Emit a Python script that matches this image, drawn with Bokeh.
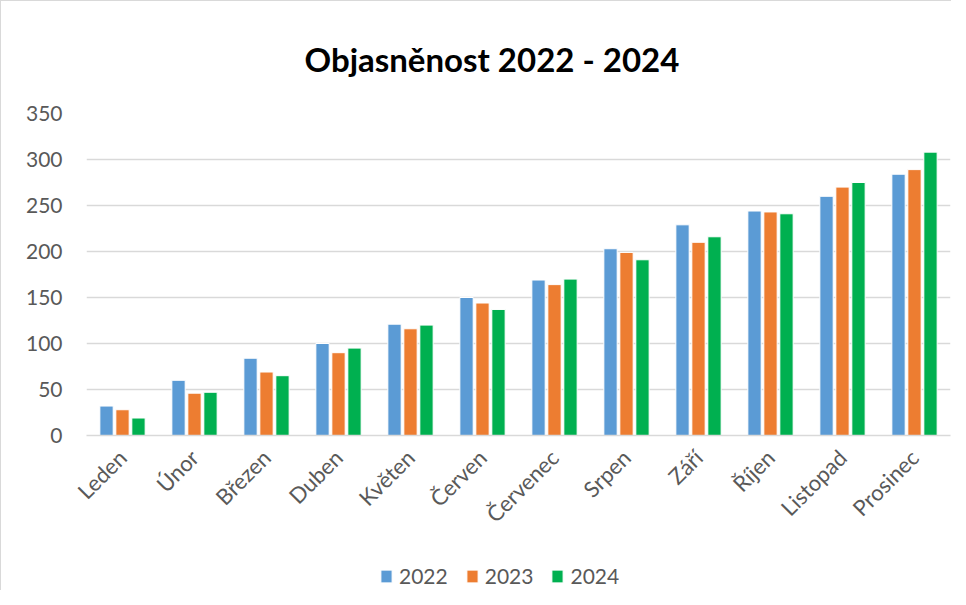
import math
from bokeh.plotting import figure
from bokeh.layouts import column
from bokeh.models import ColumnDataSource, FactorRange, Range1d, FixedTicker, Legend, LegendItem
from bokeh.transform import dodge
from bokeh.embed import file_html
from bokeh.resources import INLINE

months = ["Leden", "Únor", "Březen", "Duben", "Květen", "Červen", "Červenec",
          "Srpen", "Září", "Říjen", "Listopad", "Prosinec"]
v2022 = [32, 60, 84, 100, 121, 150, 169, 203, 229, 244, 260, 284]
v2023 = [28, 46, 69, 90, 116, 144, 164, 199, 210, 243, 270, 289]
v2024 = [19, 47, 65, 95, 120, 137, 170, 191, 216, 241, 275, 308]
years = ["2022", "2023", "2024"]
colors = ["#5B9BD5", "#ED7D31", "#00B050"]
y_ticks = [0, 50, 100, 150, 200, 250, 300, 350]

src = ColumnDataSource(dict(month=months, y2022=v2022, y2023=v2023, y2024=v2024))

FONT = "Lato"
GREY = "#595959"
offsets = [-0.222, 0.0, 0.222]

# ---- main chart ----
p = figure(x_range=FactorRange(factors=months, range_padding=0),
           y_range=Range1d(0, 350),
           width=950, height=540, output_backend="svg", toolbar_location=None,
           title="Objasněnost 2022 - 2024")
p.min_border_left = 85
p.min_border_right = 1
p.min_border_top = 110
p.min_border_bottom = 106
p.outline_line_color = None

p.title.align = "left"
p.title.offset = 218
p.title.text_font = FONT
p.title.text_font_size = "33px"
p.title.text_font_style = "bold"
p.title.text_color = "#000000"
p.title.standoff = 70

for yr, col, off in zip(years, colors, offsets):
    p.vbar(x=dodge("month", off, range=p.x_range), top="y" + yr, width=0.185,
           source=src, fill_color=col, line_color="white", line_width=1)

p.yaxis.ticker = FixedTicker(ticks=y_ticks)
p.yaxis.axis_line_color = None
p.yaxis.major_tick_line_color = None
p.yaxis.minor_tick_line_color = None
p.yaxis.major_label_text_font = FONT
p.yaxis.major_label_text_font_size = "21px"
p.yaxis.major_label_text_color = GREY
p.yaxis.major_label_standoff = 18

p.xaxis.axis_line_color = "#d9d9d9"
p.xaxis.axis_line_width = 1.5
p.xaxis.major_tick_line_color = None
p.xaxis.minor_tick_line_color = None
p.xaxis.major_label_orientation = math.pi / 4
p.xaxis.major_label_text_font = FONT
p.xaxis.major_label_text_font_size = "22px"
p.xaxis.major_label_text_color = GREY
p.xaxis.major_label_standoff = 12

p.xgrid.grid_line_color = None
p.ygrid.grid_line_color = "#d9d9d9"
p.ygrid.grid_line_width = 1.5

# ---- legend strip (bars fall outside its y range, only the legend shows) ----
q = figure(x_range=p.x_range, y_range=Range1d(1000, 1001),
           width=950, height=49, output_backend="svg", toolbar_location=None,
           x_axis_location=None, y_axis_location=None)
q.min_border_left = 85
q.min_border_right = 1
q.min_border_top = 0
q.min_border_bottom = 0
q.outline_line_color = None
q.grid.grid_line_color = None

leg_renderers = []
for yr, col, off in zip(years, colors, offsets):
    r = q.vbar(x=dodge("month", off, range=p.x_range), top="y" + yr, width=0.185,
               source=src, fill_color=col, line_color="white", line_width=1)
    leg_renderers.append(r)

legend = Legend(items=[LegendItem(label=yr, renderers=[r]) for yr, r in zip(years, leg_renderers)],
                orientation="horizontal", location=(293, 2),
                label_text_font=FONT, label_text_font_size="21px", label_text_color=GREY,
                glyph_width=14, glyph_height=16, label_standoff=6, spacing=17,
                padding=0, margin=0, border_line_color=None, background_fill_alpha=0)
q.add_layout(legend, "center")

layout = column(p, q, spacing=0)
layout.styles = {"border-left": "1px solid #d9d9d9", "border-top": "1px solid #d9d9d9"}

open("out.html", "w").write(file_html(layout, INLINE))
